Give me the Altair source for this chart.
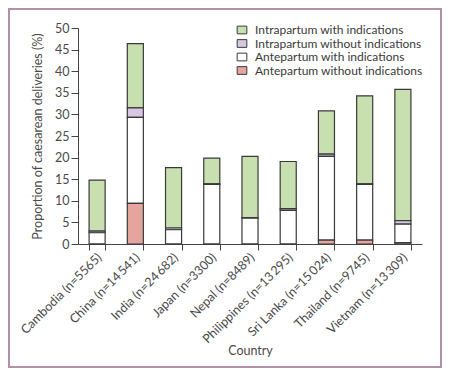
import altair as alt
import pandas as pd

countries = ["Cambodia (n=5565)", "China (n=14\u2009541)", "India (n=24\u2009682)",
             "Japan (n=3300)", "Nepal (n=8489)", "Philippines (n=13\u2009295)",
             "Sri Lanka (n=15\u2009024)", "Thailand (n=9745)", "Vietnam (n=13\u2009309)"]
ante_without = [0.0, 9.4, 0.0, 0.0, 0.0, 0.0, 0.9, 0.9, 0.3]
ante_with = [2.6, 19.9, 3.3, 13.8, 6.0, 7.8, 19.4, 12.9, 4.3]
intra_without = [0.4, 2.2, 0.4, 0.1, 0.1, 0.4, 0.5, 0.1, 0.8]
intra_with = [11.8, 14.9, 14.0, 6.0, 14.2, 10.9, 10.0, 20.4, 30.4]

series = ["Intrapartum with indications", "Intrapartum without indications",
          "Antepartum with indications", "Antepartum without indications"]
colors = ["#c8e0b0", "#d7c7e3", "#ffffff", "#e3a59e"]
stack_order = {series[3]: 0, series[2]: 1, series[1]: 2, series[0]: 3}

rows = []
for i, c in enumerate(countries):
    for s, vals in zip(series, [intra_with, intra_without, ante_with, ante_without]):
        rows.append({"country": c, "type": s, "value": vals[i], "ord": stack_order[s]})
df = pd.DataFrame(rows)

FONT = "Lato"
FS = 12.5

bars = alt.Chart(df).mark_bar(stroke="#3a3a3a", strokeWidth=1.2).encode(
    x=alt.X("country:N", sort=countries, title="Country",
            scale=alt.Scale(paddingInner=0.58, paddingOuter=0.29),
            axis=alt.Axis(labelAngle=-45, labelAlign="right", labelBaseline="middle",
                          tickBand="extent", tickSize=6, labelFontSize=FS,
                          labelColor="#4a4a4a", titleFontSize=FS, titleColor="#4a4a4a",
                          titleFontWeight="normal", domainColor="#444", tickColor="#444",
                          labelPadding=5, labelOffset=2, titlePadding=-1,
                          labelFont=FONT, titleFont=FONT, labelLimit=0)),
    y=alt.Y("value:Q", stack="zero", title="Proportion of caesarean deliveries (%)",
            scale=alt.Scale(domain=[0, 50], nice=False),
            axis=alt.Axis(values=list(range(0, 51, 5)), tickSize=7, labelFontSize=FS,
                          labelColor="#4a4a4a", titleFontSize=FS, titleColor="#4a4a4a",
                          titleFontWeight="normal", domainColor="#444", tickColor="#444",
                          grid=False, titlePadding=10, labelFont=FONT, titleFont=FONT)),
    color=alt.Color("type:N", sort=series,
                    scale=alt.Scale(domain=series, range=colors),
                    legend=alt.Legend(title=None, orient="none", legendX=158, legendY=-4,
                                      symbolType="M-1.25,-1H1.25V1H-1.25Z", symbolSize=60,
                                      symbolStrokeColor="#3a3a3a", symbolStrokeWidth=1,
                                      labelFontSize=12, labelColor="#3a3a3a", labelFont=FONT,
                                      rowPadding=1.5, labelOffset=7, labelLimit=0)),
    order=alt.Order("ord:Q"),
)

frame = alt.Chart(pd.DataFrame({"a": [0]})).mark_rect(
    fill=None, stroke="#b48fa8", strokeWidth=2, clip=False).encode(
    x=alt.value(-69), x2=alt.value(363), y=alt.value(-19), y2=alt.value(339))

chart = alt.layer(bars, frame).properties(
    width=344, height=216,
    autosize=alt.AutoSizeParams(type="none"),
    padding={"left": 70, "top": 20, "right": 20, "bottom": 126},
    background="white",
).configure_view(stroke=None)

chart.save("out.html", embed_options={"renderer": "svg", "actions": False})
